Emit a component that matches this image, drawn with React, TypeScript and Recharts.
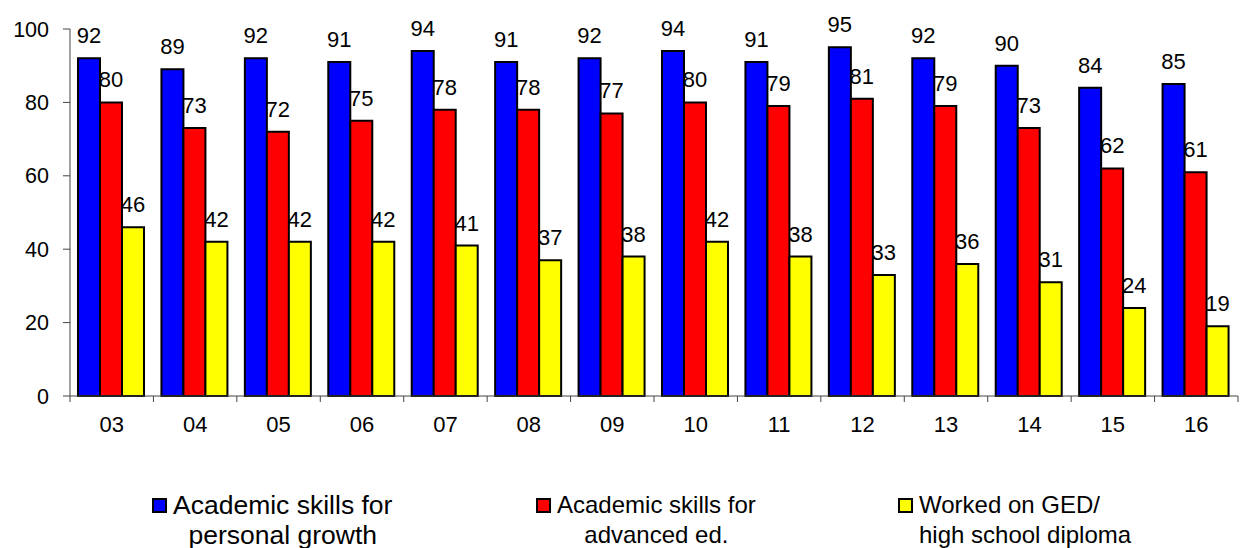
import React from "react";
import { BarChart, Bar, XAxis, YAxis, LabelList, Legend } from "recharts";

const categories = ["03", "04", "05", "06", "07", "08", "09", "10", "11", "12", "13", "14", "15", "16"];
const personalGrowth = [92, 89, 92, 91, 94, 91, 92, 94, 91, 95, 92, 90, 84, 85];
const advancedEd = [80, 73, 72, 75, 78, 78, 77, 80, 79, 81, 79, 73, 62, 61];
const gedDiploma = [46, 42, 42, 42, 41, 37, 38, 42, 38, 33, 36, 31, 24, 19];
const yTicks = [0, 20, 40, 60, 80, 100];

const seriesNames = [
  ["Academic skills for", "personal growth"],
  ["Academic skills for", "advanced ed."],
  ["Worked on GED/", "high school diploma"],
];
const seriesKeys = ["personal", "advanced", "ged"];
const seriesColors = ["#0000FF", "#FF0000", "#FFFF00"];

const data = categories.map((c, i) => ({
  cat: c,
  personal: personalGrowth[i],
  advanced: advancedEd[i],
  ged: gedDiploma[i],
}));

const W = 1243;
const H = 548;
const MARGIN = { top: 29, right: 5, bottom: 0, left: 0 };
const Y_AXIS_W = 70;
const LEGEND_H = 60;
const X_AXIS_H = H - MARGIN.top - 367 - LEGEND_H - MARGIN.bottom;
const FONT = "'Liberation Sans', Arial, sans-serif";
const HALF_BAND = (W - MARGIN.left - MARGIN.right - Y_AXIS_W) / categories.length / 2;
const LEGEND_LEFT = [152, 536, 898];
const LEGEND_FONT = [26.5, 24, 24];
const LEGEND_ALIGN: any[] = ["center", "center", "left"];

const XTick = (props: any) => {
  const { x, y, payload, index } = props;
  return (
    <g>
      <line x1={x - HALF_BAND} y1={y} x2={x - HALF_BAND} y2={y + 6} stroke="#444" strokeWidth={1} />
      {index === categories.length - 1 && (
        <line x1={x + HALF_BAND} y1={y} x2={x + HALF_BAND} y2={y + 6} stroke="#444" strokeWidth={1} />
      )}
      <text x={x} y={y + 36} textAnchor="middle" fontSize={22} fontFamily={FONT} fill="#000">
        {payload.value}
      </text>
    </g>
  );
};

const LegendContent = () => (
  <div style={{ position: "relative", height: LEGEND_H, fontFamily: FONT, color: "#000" }}>
    {seriesNames.map((lines, i) => (
      <div
        key={i}
        style={{ position: "absolute", left: LEGEND_LEFT[i], top: 0, display: "flex", alignItems: "flex-start" }}
      >
        <span
          style={{
            display: "inline-block",
            width: 15,
            height: 15,
            boxSizing: "border-box",
            border: "2px solid #000",
            background: seriesColors[i],
            marginTop: 10,
            marginRight: 6,
          }}
        />
        <div
          style={{
            fontSize: LEGEND_FONT[i],
            lineHeight: "30px",
            textAlign: LEGEND_ALIGN[i],
            paddingTop: 2,
            whiteSpace: "nowrap",
          }}
        >
          {lines.map((l, j) => (
            <div key={j}>{l}</div>
          ))}
        </div>
      </div>
    ))}
  </div>
);

export default function App() {
  return (
    <div style={{ position: "absolute", left: 0, top: 0, width: W, height: H, background: "#fff" }}>
      <BarChart width={W} height={H} data={data} margin={MARGIN} barCategoryGap={8} barGap={0}>
        <XAxis
          dataKey="cat"
          height={X_AXIS_H}
          tickLine={false}
          tickSize={0}
          tickMargin={0}
          axisLine={{ stroke: "#444", strokeWidth: 1 }}
          tick={<XTick />}
          interval={0}
        />
        <YAxis
          domain={[0, 100]}
          ticks={yTicks}
          width={Y_AXIS_W}
          tickSize={7}
          tickMargin={14}
          axisLine={{ stroke: "#444", strokeWidth: 1 }}
          tickLine={{ stroke: "#444", strokeWidth: 1 }}
          tick={{ fontSize: 21.5, fontFamily: FONT, fill: "#000" }}
          interval={0}
        />
        <Legend verticalAlign="bottom" height={LEGEND_H} content={<LegendContent />} />
        {seriesKeys.map((k, i) => (
          <Bar key={k} dataKey={k} fill={seriesColors[i]} stroke="#000" strokeWidth={2} isAnimationActive={false}>
            <LabelList
              dataKey={k}
              position="top"
              offset={15}
              style={{ fontSize: 22, fontFamily: FONT, fill: "#000" }}
            />
          </Bar>
        ))}
      </BarChart>
    </div>
  );
}
